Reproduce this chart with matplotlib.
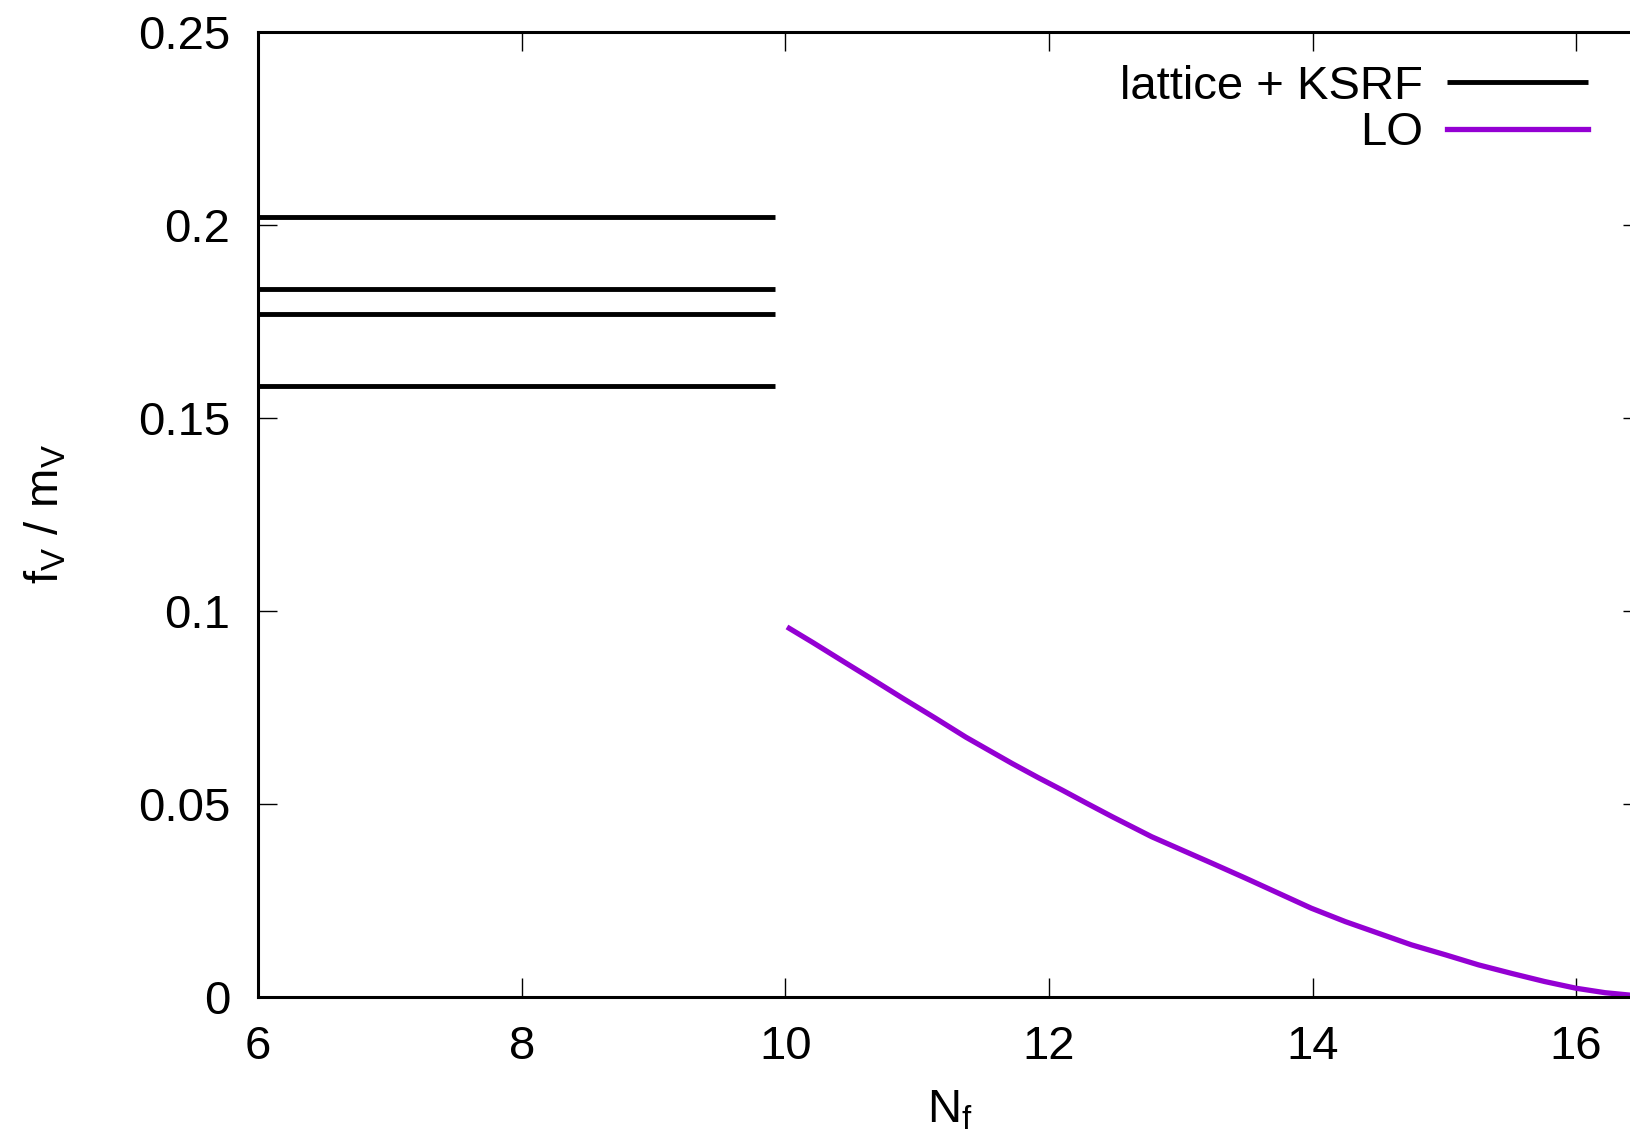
import numpy as np
import matplotlib
matplotlib.use('Agg')
import matplotlib.pyplot as plt
from matplotlib.ticker import FormatStrFormatter, MultipleLocator

plt.rcParams['font.family'] = ['Liberation Sans', 'DejaVu Sans']
plt.rcParams['mathtext.fontset'] = 'custom'
plt.rcParams['mathtext.rm'] = 'Liberation Sans'
plt.rcParams['mathtext.it'] = 'Liberation Sans'

# lattice + KSRF estimates (constant bands over Nf)
lattice_vals = [0.2020, 0.1834, 0.1769, 0.1583]
lattice_nf = [6.0, 9.92]

# LO curve, f_V/m_V vs Nf
lo_nf = [10.03, 10.21, 10.46, 10.66, 10.89, 11.14, 11.37, 11.55, 11.72,
         11.92, 12.10, 12.28, 12.48, 12.78, 12.98, 13.24, 13.49, 13.74,
         13.99, 14.25, 14.50, 14.75, 15.01, 15.26, 15.51, 15.76, 16.00,
         16.22, 16.40, 16.50]
lo_val = [0.0955, 0.0918, 0.0865, 0.0823, 0.0774, 0.0722, 0.0673, 0.0638,
          0.0605, 0.0568, 0.0536, 0.0503, 0.0467, 0.0415, 0.0385, 0.0346,
          0.0308, 0.0269, 0.0230, 0.0195, 0.0165, 0.0135, 0.0109, 0.0083,
          0.0061, 0.0040, 0.00225, 0.0011, 0.0005, 0.0]

xticks = [6, 8, 10, 12, 14, 16]

fig = plt.figure(figsize=(16.31, 11.45), dpi=100)
ax = fig.add_axes([0.1582, 0.1293, 0.8486, 0.8428])

for i, v in enumerate(lattice_vals):
    ax.plot(lattice_nf, [v, v], color='black', lw=3.5, solid_capstyle='butt',
            label='lattice + KSRF' if i == 0 else None)
ax.plot(lo_nf, lo_val, color='#9400d3', lw=3.8, label='LO')

ax.set_xlim(6, 16.5)
ax.set_ylim(0, 0.25)
ax.set_xticks(xticks)
ax.yaxis.set_major_locator(MultipleLocator(0.05))
ax.yaxis.set_major_formatter(FormatStrFormatter('%g'))
ax.tick_params(direction='in', length=14, width=1.0, top=True, right=True,
               labelsize=34, pad=20)
for s in ax.spines.values():
    s.set_linewidth(2.2)

ax.set_xlabel(r'$\mathregular{N_f}$', fontsize=34, labelpad=14)
ax.set_ylabel(r'$\mathregular{f_V\ /\ m_V}$', fontsize=34, labelpad=50)

ax.legend(loc='upper right', frameon=False, markerfirst=False, fontsize=34,
          handlelength=3.0, handletextpad=0.5, labelspacing=0.05,
          borderaxespad=0.3, bbox_to_anchor=(0.985, 1.0))

fig.savefig('out.png', dpi=100)
